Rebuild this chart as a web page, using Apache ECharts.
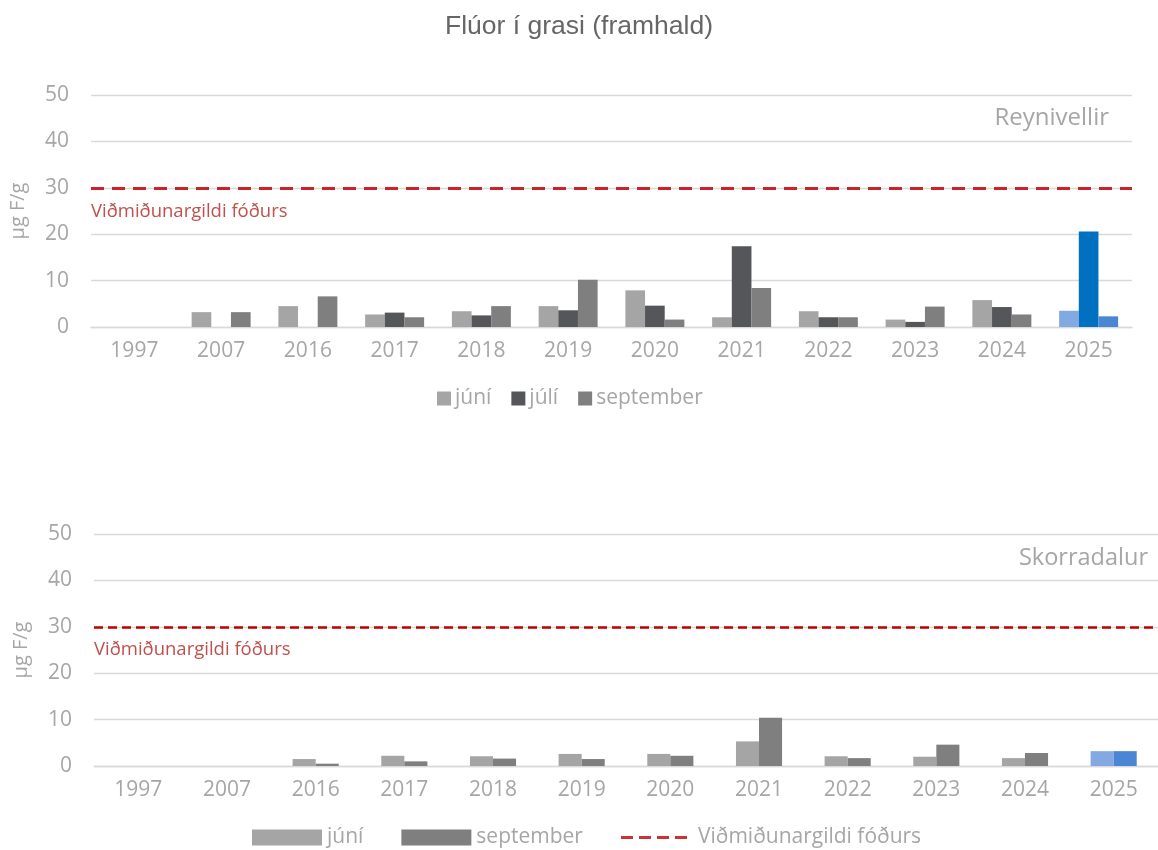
<!DOCTYPE html>
<html>
<head>
<meta charset="utf-8">
<script src="https://cdn.jsdelivr.net/npm/echarts@6/dist/echarts.min.js"></script>
<style>html,body{margin:0;padding:0;background:#fff}#c{width:1158px;height:850px}</style>
</head>
<body>
<div id="c"></div>
<script>
const years = ['1997','2007','2016','2017','2018','2019','2020','2021','2022','2023','2024','2025'];
// Reynivellir
const topJuni = [null, 3.2, 4.5, 2.7, 3.4, 4.5, 7.9, 2.1, 3.4, 1.6, 5.8, 3.5];
const topJuli = [null, null, null, 3.1, 2.5, 3.6, 4.6, 17.4, 2.1, 1.1, 4.3, 20.6];
const topSept = [null, 3.2, 6.6, 2.1, 4.5, 10.2, 1.6, 8.4, 2.1, 4.4, 2.7, 2.3];
// Skorradalur
const botJuni = [null, null, 1.5, 2.2, 2.1, 2.6, 2.6, 5.3, 2.1, 2.0, 1.7, 3.2];
const botSept = [null, null, 0.5, 1.0, 1.6, 1.5, 2.2, 10.4, 1.7, 4.6, 2.8, 3.2];
const threshold = 30;
const yTicks = [0, 50, 10];
const highlightYear = '2025';

const FONT = '"Open Sans", sans-serif';
const GREY = '#A6A6A6';
const colJuni = '#A5A5A5', colJuli = '#55565A', colSept = '#7F7F7F';
const hiJuni = '#82A9E2', hiJuli = '#0070C0', hiSept = '#4A86D4';
const refName = 'Viðmiðunargildi fóðurs';

function mk(vals, base, hi) {
  return vals.map((v, i) => years[i] === highlightYear
    ? { value: v, itemStyle: { color: hi } }
    : v);
}

const chart = echarts.init(document.getElementById('c'), null, { renderer: 'canvas' });

function yAx(gi) {
  return {
    gridIndex: gi, type: 'value', min: yTicks[0], max: yTicks[1], interval: yTicks[2],
    name: 'µg F/g', nameLocation: 'middle', nameRotate: 90, nameGap: 63,
    nameTextStyle: { color: GREY, fontFamily: FONT, fontSize: 20 },
    axisLabel: { color: GREY, fontFamily: FONT, fontSize: 21, margin: 22 },
    axisLine: { show: false }, axisTick: { show: false },
    splitLine: { lineStyle: { color: '#D9D9D9', width: 1.3 } }
  };
}
function xAx(gi) {
  return {
    gridIndex: gi, type: 'category', data: years,
    axisLabel: { color: GREY, fontFamily: FONT, fontSize: 21, margin: 14 },
    axisLine: { lineStyle: { color: '#D9D9D9', width: 1.3 } },
    axisTick: { show: false }
  };
}
function ml(color, dash, width, dist) {
  return {
    silent: true, symbol: 'none',
    lineStyle: { color: color, type: dash, width: width },
    label: { show: true, position: 'insideStartBottom', formatter: refName,
      color: '#C0504D', fontFamily: FONT, fontSize: 18.5, distance: dist },
    data: [{ yAxis: threshold }]
  };
}

const dashIcon = 'path://M0,0H12V3H0Z M18,0H30V3H18Z M36,0H48V3H36Z M54,0H66V3H54Z';

const option = {
  backgroundColor: '#fff',
  animation: false,
  title: [
    { text: 'Flúor í grasi (framhald)', left: 'center', top: 8,
      textStyle: { fontFamily: '"Liberation Sans", Arial, sans-serif', fontSize: 26.5, fontWeight: 'normal', color: '#666666' } },
    { text: 'Reynivellir', right: 44, top: 101,
      textStyle: { fontFamily: FONT, fontSize: 24, fontWeight: 'normal', color: GREY } },
    { text: 'Skorradalur', right: 5, top: 541,
      textStyle: { fontFamily: FONT, fontSize: 23.5, fontWeight: 'normal', color: GREY } }
  ],
  grid: [
    { left: 90, top: 95, width: 1042, height: 232 },
    { left: 94, top: 534, width: 1069, height: 232 }
  ],
  xAxis: [xAx(0), xAx(1)],
  yAxis: [yAx(0), yAx(1)],
  legend: [
    { top: 383, left: 432, icon: 'rect', itemWidth: 14, itemHeight: 14, itemGap: 20,
      textStyle: { color: GREY, fontFamily: FONT, fontSize: 21, padding: [0,0,0,-1] },
      data: ['júní', 'júlí', 'september'] },
    { top: 822, left: 247, icon: 'rect', itemWidth: 70, itemHeight: 16, itemGap: 38,
      textStyle: { color: GREY, fontFamily: FONT, fontSize: 21 },
      data: ['júní', 'september'] },
    { top: 822, left: 616, icon: dashIcon, itemWidth: 66, itemHeight: 3,
      itemStyle: { color: '#C00000', borderWidth: 0 },
      textStyle: { color: GREY, fontFamily: FONT, fontSize: 21, padding: [0,0,0,6] },
      data: [{ name: refName, itemStyle: { color: '#C00000' } }] }
  ],
  series: [
    { name: 'júní', type: 'bar', xAxisIndex: 0, yAxisIndex: 0, data: mk(topJuni, colJuni, hiJuni),
      itemStyle: { color: colJuni }, barGap: '0%', barCategoryGap: '32%',
      markLine: ml('#CC2229', [13, 8], 3, [0, 14]) },
    { name: 'júlí', type: 'bar', xAxisIndex: 0, yAxisIndex: 0, data: mk(topJuli, colJuli, hiJuli),
      itemStyle: { color: colJuli }, barGap: '0%', barCategoryGap: '32%' },
    { name: 'september', type: 'bar', xAxisIndex: 0, yAxisIndex: 0, data: mk(topSept, colSept, hiSept),
      itemStyle: { color: colSept }, barGap: '0%', barCategoryGap: '32%' },
    { name: 'júní', type: 'bar', xAxisIndex: 1, yAxisIndex: 1, data: mk(botJuni, colJuni, hiJuni),
      itemStyle: { color: colJuni }, barGap: '0%', barCategoryGap: '48%' },
    { name: 'september', type: 'bar', xAxisIndex: 1, yAxisIndex: 1, data: mk(botSept, colSept, hiSept),
      itemStyle: { color: colSept }, barGap: '0%', barCategoryGap: '48%' },
    { name: refName, type: 'scatter', xAxisIndex: 1, yAxisIndex: 1, data: [],
      itemStyle: { color: '#C00000' },
      markLine: ml('#C00000', [9, 5], 2.5, [0, 13]) }
  ]
};
chart.setOption(option);
</script>
</body>
</html>
